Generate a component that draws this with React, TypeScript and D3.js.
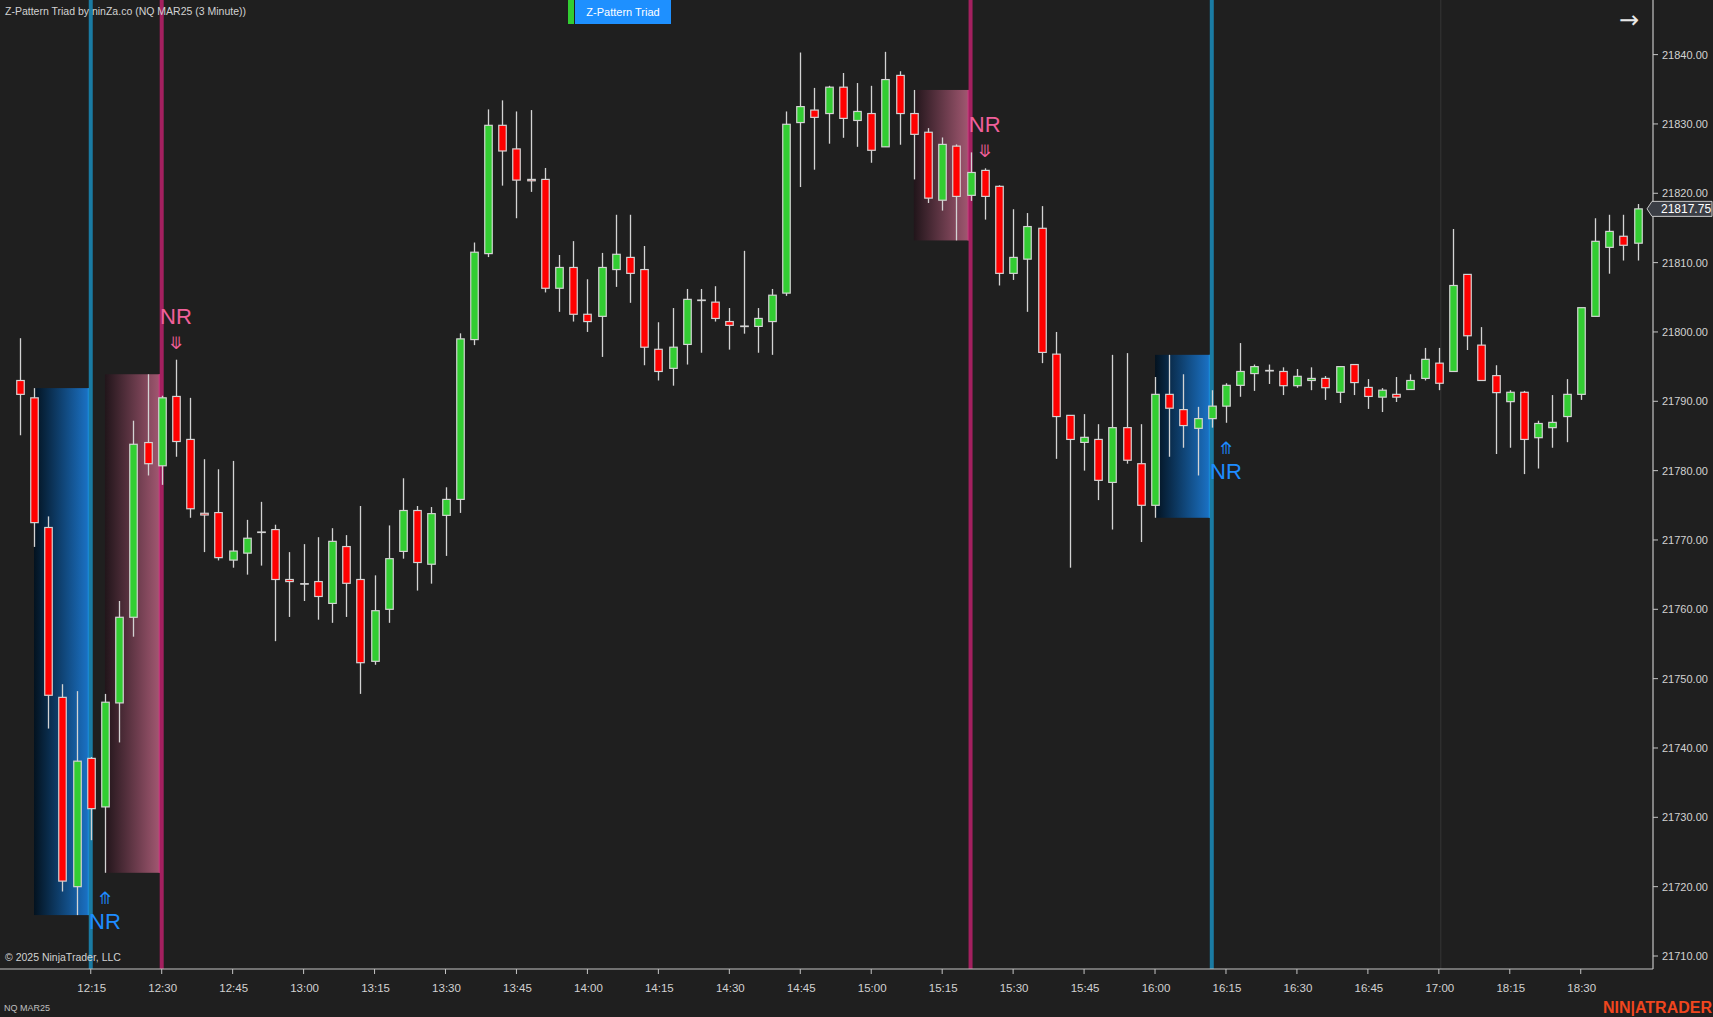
import React from "react";
import * as d3 from "d3";

// ---- Data (3-minute NQ MAR25 bars, 12:00 .. 18:42) ----
const opens = [
  21793.0, 21790.5, 21771.8, 21747.3, 21720.0, 21738.5, 21731.5, 21746.5, 21758.85, 21784.05,
  21780.7, 21790.7, 21784.5, 21773.85, 21773.95, 21767.1, 21768.1, 21771.15, 21771.5, 21764.3,
  21763.7, 21764.0, 21760.85, 21769.05, 21764.3, 21752.5, 21760.0, 21768.35, 21774.25, 21766.5,
  21773.55, 21775.85, 21798.9, 21811.3, 21829.8, 21826.4, 21822.0, 21822.0, 21806.3, 21809.3,
  21802.55, 21802.25, 21809.0, 21810.75, 21809.0, 21797.5, 21794.75, 21798.2, 21804.6, 21804.3,
  21801.5, 21800.85, 21800.8, 21801.5, 21805.6, 21830.2, 21832.0, 21831.5, 21835.3, 21830.5,
  21831.5, 21826.7, 21837.0, 21831.5, 21828.8, 21819.0, 21826.8, 21819.7, 21823.3, 21821.0,
  21808.45, 21810.5, 21814.95, 21796.8, 21787.97, 21784.07, 21784.5, 21778.3, 21786.2, 21781.0,
  21775.0, 21791.0, 21788.8, 21786.1, 21787.5, 21789.3, 21792.3, 21794.0, 21794.45, 21794.3,
  21792.25, 21793.0, 21793.3, 21791.3, 21795.3, 21792.0, 21790.6, 21791.0, 21791.7, 21793.3,
  21795.5, 21794.3, 21808.3, 21798.1, 21793.7, 21789.95, 21791.3, 21784.75, 21786.2, 21787.8,
  21791.0, 21802.25, 21812.2, 21813.8, 21812.8,
];
const highs = [
  21799.1, 21791.9, 21773.4, 21749.2, 21748.2, 21738.7, 21747.8, 21761.2, 21787.2, 21793.9,
  21790.8, 21796.0, 21790.5, 21781.65, 21780.2, 21781.4, 21772.9, 21775.5, 21772.2, 21768.25,
  21769.4, 21770.4, 21771.7, 21770.7, 21774.9, 21764.9, 21772.1, 21778.9, 21774.9, 21774.75,
  21777.6, 21799.8, 21812.9, 21832.1, 21833.4, 21831.8, 21832.0, 21823.65, 21811.1, 21813.1,
  21807.6, 21811.4, 21816.9, 21816.9, 21812.4, 21801.4, 21803.45, 21806.2, 21806.2, 21806.6,
  21803.45, 21811.7, 21803.45, 21806.2, 21831.8, 21840.3, 21835.2, 21835.5, 21837.35, 21835.9,
  21835.5, 21840.4, 21837.6, 21834.9, 21829.4, 21828.05, 21827.05, 21825.9, 21823.6, 21821.15,
  21817.7, 21817.15, 21818.15, 21800.0, 21787.97, 21788.15, 21786.7, 21796.7, 21796.95, 21786.7,
  21793.5, 21796.7, 21793.9, 21789.2, 21791.6, 21792.6, 21798.4, 21795.3, 21795.3, 21794.9,
  21794.65, 21794.9, 21793.64, 21795.0, 21795.3, 21793.2, 21791.9, 21793.5, 21793.9, 21797.7,
  21797.7, 21814.85, 21808.3, 21800.7, 21795.2, 21791.6, 21791.5, 21787.2, 21790.9, 21793.2,
  21803.5, 21816.4, 21816.9, 21816.9, 21818.45,
];
const lows = [
  21785.1, 21769.0, 21742.8, 21719.3, 21715.9, 21726.7, 21722.0, 21740.8, 21756.05, 21779.3,
  21777.95, 21782.0, 21773.2, 21768.25, 21767.05, 21766.0, 21765.0, 21766.3, 21755.4, 21758.9,
  21761.2, 21758.5, 21758.05, 21758.9, 21747.8, 21752.0, 21758.05, 21767.3, 21762.7, 21763.7,
  21767.7, 21773.9, 21798.1, 21810.8, 21821.1, 21816.4, 21820.2, 21805.7, 21802.9, 21801.5,
  21800.0, 21796.4, 21806.5, 21804.2, 21795.2, 21793.0, 21792.25, 21795.3, 21797.0, 21801.5,
  21797.45, 21799.75, 21797.0, 21796.7, 21805.2, 21820.9, 21823.4, 21827.15, 21828.0, 21826.7,
  21824.4, 21826.7, 21827.0, 21822.0, 21818.6, 21817.5, 21813.2, 21818.9, 21816.2, 21806.7,
  21807.5, 21802.9, 21795.5, 21781.7, 21766.0, 21780.0, 21775.75, 21771.5, 21781.0, 21769.7,
  21773.2, 21782.0, 21783.3, 21779.3, 21786.2, 21786.9, 21790.65, 21791.5, 21792.5, 21790.9,
  21791.95, 21791.6, 21790.2, 21789.75, 21790.9, 21788.9, 21788.45, 21789.9, 21791.7, 21793.0,
  21791.6, 21794.3, 21797.4, 21793.0, 21782.4, 21783.3, 21779.5, 21780.3, 21783.3, 21784.1,
  21790.2, 21802.25, 21808.4, 21810.3, 21810.3,
];
const closes = [
  21791.0, 21772.5, 21747.6, 21720.8, 21738.1, 21731.25, 21746.6, 21758.85, 21783.8, 21781.0,
  21790.5, 21784.2, 21774.5, 21773.6, 21767.45, 21768.4, 21770.25, 21771.15, 21764.3, 21764.0,
  21763.7, 21761.85, 21769.8, 21763.75, 21752.3, 21759.8, 21767.3, 21774.25, 21766.75, 21773.8,
  21775.85, 21799.0, 21811.5, 21829.8, 21826.1, 21821.9, 21821.8, 21806.3, 21809.3, 21802.55,
  21801.5, 21809.3, 21811.2, 21808.45, 21797.8, 21794.3, 21797.8, 21804.7, 21804.6, 21801.95,
  21800.95, 21800.85, 21801.95, 21805.3, 21829.95, 21832.5, 21830.95, 21835.3, 21830.8, 21831.8,
  21826.2, 21836.4, 21831.5, 21828.5, 21819.3, 21827.05, 21819.55, 21823.0, 21819.55, 21808.45,
  21810.75, 21815.2, 21797.05, 21787.8, 21784.5, 21784.8, 21778.6, 21786.2, 21781.5, 21775.0,
  21791.0, 21789.0, 21786.5, 21787.5, 21789.3, 21792.3, 21794.3, 21795.0, 21794.45, 21792.25,
  21793.6, 21793.3, 21791.96, 21795.0, 21792.7, 21790.7, 21791.6, 21790.6, 21793.0, 21796.05,
  21792.6, 21806.7, 21799.45, 21793.0, 21791.25, 21791.3, 21784.5, 21786.8, 21786.96, 21791.0,
  21803.5, 21813.07, 21814.5, 21812.5, 21817.75,
];

// time-axis labels (bar index -> label)
const timeTickIdx = [5, 10, 15, 20, 25, 30, 35, 40, 45, 50, 55, 60, 65, 70, 75, 80, 85, 90, 95, 100, 105, 110];
const timeTickLabels = [
  "12:15", "12:30", "12:45", "13:00", "13:15", "13:30", "13:45", "14:00", "14:15", "14:30", "14:45",
  "15:00", "15:15", "15:30", "15:45", "16:00", "16:15", "16:30", "16:45", "17:00", "18:15", "18:30",
];
const priceTicks = [21710, 21720, 21730, 21740, 21750, 21760, 21770, 21780, 21790, 21800, 21810, 21820, 21830, 21840];
const sessionBreakIdx = 100;

// NR patterns: signal bar index, direction
const nrSignals = [
  { idx: 5, dir: "up" },
  { idx: 10, dir: "down" },
  { idx: 67, dir: "down" },
  { idx: 84, dir: "up" },
];

const W = 1713;
const H = 1017;
const AXIS_X = 1653;
const AXIS_Y = 969;

const UP = "#32cd32";
const DOWN = "#ff0000";
const OUTLINE = "#d3d3d3";
const BG = "#1f1f1f";
const TXT = "#d2d2d2";
const BLUE_LINE = "#1a7ba3";
const MAG_LINE = "#a3205f";
const NR_BLUE = "#1e8cff";
const NR_PINK = "#f0609a";

export default function App() {
  const n = closes.length;
  const x = d3.scaleLinear().domain([0, n - 1]).range([19.8, 1637.5]);
  const y = d3.scaleLinear().domain([21710, 21840]).range([956, 54.6]);
  const bw = 7.5;
  const font = "'Liberation Sans', Arial, sans-serif";

  const boxes = nrSignals.map((s, k) => {
    const from = s.idx - 4;
    const hi = d3.max(highs.slice(from, s.idx)) as number;
    const lo = d3.min(lows.slice(from, s.idx)) as number;
    return { ...s, k, x0: x(from), x1: x(s.idx), y0: y(hi), y1: y(lo) };
  });

  const last = closes[n - 1];
  const ly = y(last);

  return (
    <svg
      width={W}
      height={H}
      style={{ position: "fixed", left: 0, top: 0, background: BG, display: "block" }}
      fontFamily={font}
    >
      <defs>
        <linearGradient id="gBlue" x1="0" x2="1" y1="0" y2="0">
          <stop offset="0" stopColor="#03121f" />
          <stop offset="1" stopColor="#1c76cc" />
        </linearGradient>
        <linearGradient id="gMag" x1="0" x2="1" y1="0" y2="0">
          <stop offset="0" stopColor="#21151a" />
          <stop offset="1" stopColor="#a65a74" />
        </linearGradient>
      </defs>
      <rect x={0} y={0} width={W} height={H} fill={BG} />

      {/* session break line */}
      <line x1={x(sessionBreakIdx) + 2} x2={x(sessionBreakIdx) + 2} y1={0} y2={AXIS_Y} stroke="#363636" strokeWidth={1} />

      {/* NR boxes */}
      {boxes.map((b) => (
        <rect
          key={"b" + b.k}
          x={b.x0}
          y={b.y0}
          width={b.x1 - b.x0}
          height={b.y1 - b.y0}
          fill={b.dir === "up" ? "url(#gBlue)" : "url(#gMag)"}
        />
      ))}
      {boxes.map((b) => (
        <rect
          key={"e" + b.k}
          x={b.x1 - 3}
          y={b.y0}
          width={3}
          height={b.y1 - b.y0}
          fill={b.dir === "up" ? "#1a8ede" : "#cc3a80"}
        />
      ))}

      {/* signal vertical lines */}
      {boxes.map((b) => (
        <rect
          key={"v" + b.k}
          x={b.x1 - 2}
          y={0}
          width={4}
          height={AXIS_Y}
          fill={b.dir === "up" ? BLUE_LINE : MAG_LINE}
        />
      ))}

      {/* candles */}
      {closes.map((c, i) => {
        const o = opens[i];
        const cx = Math.round(x(i)) + 0.5;
        const top = y(Math.max(o, c));
        const bot = y(Math.min(o, c));
        const fill = c > o ? UP : c < o ? DOWN : OUTLINE;
        return (
          <g key={i}>
            <line x1={cx} x2={cx} y1={y(highs[i])} y2={y(lows[i])} stroke={OUTLINE} strokeWidth={1.3} />
            <rect
              x={cx - bw / 2}
              y={top}
              width={bw}
              height={Math.max(bot - top, 0.5)}
              fill={fill}
              stroke={OUTLINE}
              strokeWidth={1.2}
            />
          </g>
        );
      })}

      {/* NR labels */}
      {boxes.map((b) => {
        const j = b.idx + 1;
        const cx = x(j);
        if (b.dir === "up") {
          const ly0 = y(lows[j]);
          return (
            <g key={"l" + b.k} fill={NR_BLUE} textAnchor="middle">
              <text x={cx} y={ly0 + 31} fontSize={17} fontFamily="'DejaVu Sans', sans-serif">⤊</text>
              <text x={cx} y={ly0 + 56} fontSize={22}>NR</text>
            </g>
          );
        }
        const hy = y(highs[j]);
        return (
          <g key={"l" + b.k} fill={NR_PINK} textAnchor="middle">
            <text x={cx} y={hy - 36} fontSize={22}>NR</text>
            <text x={cx} y={hy - 11} fontSize={17} fontFamily="'DejaVu Sans', sans-serif">⤋</text>
          </g>
        );
      })}

      {/* axes */}
      <line x1={AXIS_X} x2={AXIS_X} y1={0} y2={AXIS_Y} stroke="#c4c4c4" strokeWidth={1.2} />
      <line x1={0} x2={AXIS_X} y1={AXIS_Y} y2={AXIS_Y} stroke="#c4c4c4" strokeWidth={1.2} />
      {priceTicks.map((p) => (
        <g key={p}>
          <line x1={AXIS_X} x2={AXIS_X + 5} y1={y(p)} y2={y(p)} stroke="#c4c4c4" />
          <text x={AXIS_X + 9} y={y(p) + 4} fontSize={11} fill={TXT}>
            {d3.format(".2f")(p)}
          </text>
        </g>
      ))}
      {timeTickIdx.map((ti, k) => (
        <g key={ti}>
          <line x1={x(ti)} x2={x(ti)} y1={AXIS_Y} y2={AXIS_Y + 5} stroke="#c4c4c4" />
          <text x={x(ti) + 1} y={AXIS_Y + 23} fontSize={11.5} fill={TXT} textAnchor="middle">
            {timeTickLabels[k]}
          </text>
        </g>
      ))}

      {/* last price marker */}
      <path
        d={`M${AXIS_X - 6},${ly} L${AXIS_X - 1},${ly - 7.5} L${W - 1},${ly - 7.5} L${W - 1},${ly + 7.5} L${AXIS_X - 1},${ly + 7.5} Z`}
        fill="#3b3e45"
        stroke="#c8c8c8"
        strokeWidth={1}
      />
      <text x={AXIS_X + 8} y={ly + 4.5} fontSize={12} fill="#ffffff">
        {d3.format(".2f")(last)}
      </text>

      {/* header */}
      <text x={5} y={15} fontSize={10.5} fill={TXT}>
        Z-Pattern Triad by ninZa.co (NQ MAR25 (3 Minute))
      </text>
      <rect x={568} y={0} width={6} height={24} fill={UP} />
      <rect x={575} y={0} width={96} height={24} fill="#1e90ff" />
      <text x={623} y={16} fontSize={11} fill="#ffffff" textAnchor="middle">
        Z-Pattern Triad
      </text>
      <text x={1629} y={28} fontSize={24} fill="#e8e8e8" textAnchor="middle" fontFamily="'DejaVu Sans', sans-serif">
        →
      </text>

      {/* footer */}
      <text x={5} y={961} fontSize={10.5} fill={TXT}>
        © 2025 NinjaTrader, LLC
      </text>
      <text x={4} y={1011} fontSize={9} fill="#c0c0c0">
        NQ MAR25
      </text>
      <text x={1712} y={1013} fontSize={16} fontWeight="bold" fill="#f0461e" textAnchor="end">
        NIN|ATRADER
      </text>
    </svg>
  );
}
